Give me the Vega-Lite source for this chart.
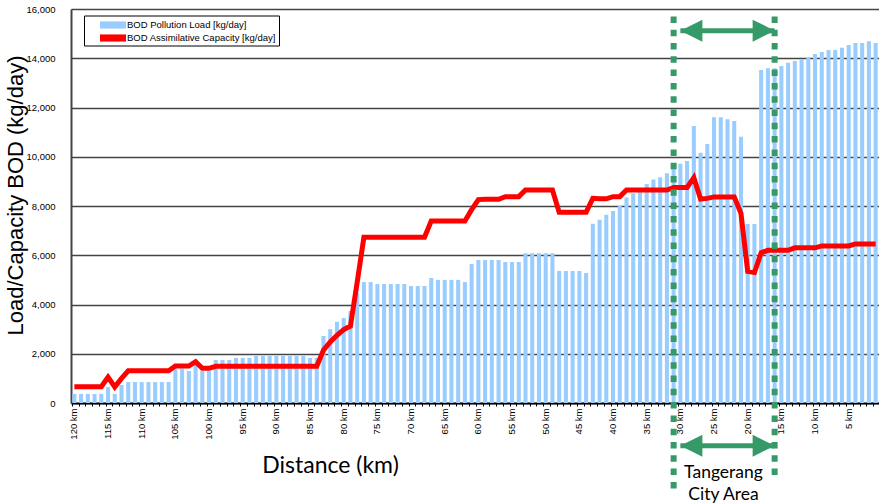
{
  "$schema": "https://vega.github.io/schema/vega-lite/v6.json",
  "autosize": "none",
  "width": 808,
  "height": 394,
  "padding": {"left": 71, "top": 9, "right": 0, "bottom": 101},
  "background": "white",
  "config": {
    "view": {"stroke": null},
    "font": "Liberation Sans"
  },
  "data": {
    "values": [
      {"km": 120, "load": 370, "capacity": 660},
      {"km": 119, "load": 370, "capacity": 660},
      {"km": 118, "load": 370, "capacity": 660},
      {"km": 117, "load": 370, "capacity": 660},
      {"km": 116, "load": 370, "capacity": 660},
      {"km": 115, "load": 650, "capacity": 1050},
      {"km": 114, "load": 370, "capacity": 650},
      {"km": 113, "load": 730, "capacity": 1000},
      {"km": 112, "load": 850, "capacity": 1310},
      {"km": 111, "load": 850, "capacity": 1310},
      {"km": 110, "load": 850, "capacity": 1310},
      {"km": 109, "load": 850, "capacity": 1310},
      {"km": 108, "load": 850, "capacity": 1310},
      {"km": 107, "load": 850, "capacity": 1310},
      {"km": 106, "load": 850, "capacity": 1310},
      {"km": 105, "load": 1400, "capacity": 1500},
      {"km": 104, "load": 1400, "capacity": 1500},
      {"km": 103, "load": 1300, "capacity": 1500},
      {"km": 102, "load": 1745, "capacity": 1680},
      {"km": 101, "load": 1300, "capacity": 1410},
      {"km": 100, "load": 1300, "capacity": 1410},
      {"km": 99, "load": 1745, "capacity": 1490},
      {"km": 98, "load": 1745, "capacity": 1490},
      {"km": 97, "load": 1745, "capacity": 1490},
      {"km": 96, "load": 1830, "capacity": 1490},
      {"km": 95, "load": 1830, "capacity": 1490},
      {"km": 94, "load": 1830, "capacity": 1490},
      {"km": 93, "load": 1910, "capacity": 1490},
      {"km": 92, "load": 1910, "capacity": 1490},
      {"km": 91, "load": 1910, "capacity": 1490},
      {"km": 90, "load": 1910, "capacity": 1490},
      {"km": 89, "load": 1910, "capacity": 1490},
      {"km": 88, "load": 1910, "capacity": 1490},
      {"km": 87, "load": 1910, "capacity": 1490},
      {"km": 86, "load": 1910, "capacity": 1490},
      {"km": 85, "load": 1830, "capacity": 1490},
      {"km": 84, "load": 1830, "capacity": 1490},
      {"km": 83, "load": 2720, "capacity": 2150},
      {"km": 82, "load": 3000, "capacity": 2480},
      {"km": 81, "load": 3300, "capacity": 2750},
      {"km": 80, "load": 3450, "capacity": 2980},
      {"km": 79, "load": 3735, "capacity": 3125},
      {"km": 78, "load": 4460, "capacity": 4900},
      {"km": 77, "load": 4910, "capacity": 6730},
      {"km": 76, "load": 4910, "capacity": 6730},
      {"km": 75, "load": 4830, "capacity": 6730},
      {"km": 74, "load": 4830, "capacity": 6730},
      {"km": 73, "load": 4830, "capacity": 6730},
      {"km": 72, "load": 4830, "capacity": 6730},
      {"km": 71, "load": 4830, "capacity": 6730},
      {"km": 70, "load": 4750, "capacity": 6730},
      {"km": 69, "load": 4750, "capacity": 6730},
      {"km": 68, "load": 4750, "capacity": 6730},
      {"km": 67, "load": 5075, "capacity": 7390},
      {"km": 66, "load": 5000, "capacity": 7390},
      {"km": 65, "load": 5000, "capacity": 7390},
      {"km": 64, "load": 5000, "capacity": 7390},
      {"km": 63, "load": 5000, "capacity": 7390},
      {"km": 62, "load": 4910, "capacity": 7390},
      {"km": 61, "load": 5645, "capacity": 7850},
      {"km": 60, "load": 5810, "capacity": 8260},
      {"km": 59, "load": 5810, "capacity": 8270},
      {"km": 58, "load": 5810, "capacity": 8270},
      {"km": 57, "load": 5810, "capacity": 8270},
      {"km": 56, "load": 5725, "capacity": 8380},
      {"km": 55, "load": 5725, "capacity": 8380},
      {"km": 54, "load": 5725, "capacity": 8380},
      {"km": 53, "load": 6085, "capacity": 8650},
      {"km": 52, "load": 6085, "capacity": 8650},
      {"km": 51, "load": 6085, "capacity": 8650},
      {"km": 50, "load": 6085, "capacity": 8650},
      {"km": 49, "load": 6085, "capacity": 8650},
      {"km": 48, "load": 5360, "capacity": 7745},
      {"km": 47, "load": 5360, "capacity": 7745},
      {"km": 46, "load": 5360, "capacity": 7745},
      {"km": 45, "load": 5360, "capacity": 7745},
      {"km": 44, "load": 5280, "capacity": 7745},
      {"km": 43, "load": 7280, "capacity": 8310},
      {"km": 42, "load": 7440, "capacity": 8290},
      {"km": 41, "load": 7640, "capacity": 8290},
      {"km": 40, "load": 7800, "capacity": 8380},
      {"km": 39, "load": 8000, "capacity": 8380},
      {"km": 38, "load": 8350, "capacity": 8650},
      {"km": 37, "load": 8515, "capacity": 8650},
      {"km": 36, "load": 8680, "capacity": 8650},
      {"km": 35, "load": 8890, "capacity": 8650},
      {"km": 34, "load": 9080, "capacity": 8650},
      {"km": 33, "load": 9165, "capacity": 8650},
      {"km": 32, "load": 9330, "capacity": 8650},
      {"km": 31, "load": 9600, "capacity": 8750},
      {"km": 30, "load": 9720, "capacity": 8750},
      {"km": 29, "load": 9830, "capacity": 8750},
      {"km": 28, "load": 11250, "capacity": 9150},
      {"km": 27, "load": 10165, "capacity": 8280},
      {"km": 26, "load": 10520, "capacity": 8310},
      {"km": 25, "load": 11600, "capacity": 8370},
      {"km": 24, "load": 11600, "capacity": 8370},
      {"km": 23, "load": 11520, "capacity": 8370},
      {"km": 22, "load": 11450, "capacity": 8370},
      {"km": 21, "load": 10815, "capacity": 7700},
      {"km": 20, "load": 7270, "capacity": 5350},
      {"km": 19, "load": 7270, "capacity": 5300},
      {"km": 18, "load": 13520, "capacity": 6100},
      {"km": 17, "load": 13590, "capacity": 6200},
      {"km": 16, "load": 13590, "capacity": 6200},
      {"km": 15, "load": 13685, "capacity": 6200},
      {"km": 14, "load": 13820, "capacity": 6200},
      {"km": 13, "load": 13890, "capacity": 6300},
      {"km": 12, "load": 13955, "capacity": 6300},
      {"km": 11, "load": 14035, "capacity": 6300},
      {"km": 10, "load": 14170, "capacity": 6300},
      {"km": 9, "load": 14255, "capacity": 6380},
      {"km": 8, "load": 14335, "capacity": 6380},
      {"km": 7, "load": 14335, "capacity": 6380},
      {"km": 6, "load": 14430, "capacity": 6380},
      {"km": 5, "load": 14540, "capacity": 6380},
      {"km": 4, "load": 14620, "capacity": 6460},
      {"km": 3, "load": 14620, "capacity": 6460},
      {"km": 2, "load": 14690, "capacity": 6460},
      {"km": 1, "load": 14620, "capacity": 6460}
    ]
  },
  "layer": [
    {
      "mark": {"type": "bar", "fill": "#99ccff"},
      "encoding": {
        "x": {
          "field": "km",
          "type": "ordinal",
          "scale": {"reverse": true, "paddingInner": 0.4, "paddingOuter": 0.2},
          "axis": {
            "title": "Distance (km)",
            "titleFont": "Lato",
            "titleFontSize": 23,
            "titleFontWeight": "normal",
            "titleColor": "black",
            "titleX": 259,
            "titleY": 62,
            "titleBaseline": "middle",
            "titleAlign": "center",
            "labelExpr": "datum.value % 5 == 0 ? datum.value + ' km' : ''",
            "labelAngle": -90,
            "labelFont": "Liberation Sans",
            "labelFontSize": 9.5,
            "labelColor": "black",
            "labelPadding": 2,
            "bandPosition": 0,
            "tickSize": 3,
            "tickColor": "black",
            "tickWidth": 1,
            "domainColor": "black",
            "domainWidth": 2,
            "grid": false
          }
        },
        "y": {
          "field": "load",
          "type": "quantitative",
          "scale": {"domain": [0, 16000], "nice": false},
          "axis": {
            "title": "Load/Capacity BOD (kg/day)",
            "titleFont": "Liberation Sans",
            "titleFontSize": 22,
            "titleFontWeight": "normal",
            "titleColor": "black",
            "titleX": -56,
            "titleY": 186,
            "titleAlign": "center",
            "titleBaseline": "middle",
            "values": [0, 2000, 4000, 6000, 8000, 10000, 12000, 14000, 16000],
            "format": ",d",
            "labelFont": "Liberation Sans",
            "labelFontSize": 9.5,
            "labelColor": "black",
            "labelPadding": 16,
            "ticks": false,
            "domainColor": "#444444",
            "domainWidth": 2,
            "grid": true,
            "gridColor": "#444444",
            "gridWidth": 1.5
          }
        },
        "color": {
          "datum": "BOD Pollution Load [kg/day]",
          "scale": {
            "domain": ["BOD Pollution Load [kg/day]", "BOD Assimilative Capacity [kg/day]"],
            "range": ["#99ccff", "#ff0000"]
          },
          "legend": {
            "title": null,
            "orient": "none",
            "legendX": 13,
            "legendY": 6.5,
            "strokeColor": "black",
            "fillColor": "white",
            "padding": 3,
            "symbolOffset": 19.5,
            "labelOffset": 7.5,
            "rowPadding": 2,
            "symbolType": "M-2,-0.55H2V0.55H-2Z",
            "symbolSize": 169,
            "symbolStrokeWidth": 0,
            "labelFont": "Liberation Sans",
            "labelFontSize": 9.5,
            "labelColor": "black"
          }
        }
      }
    },
    {
      "mark": {"type": "line", "stroke": "#ff0000", "strokeWidth": 5, "strokeJoin": "miter"},
      "encoding": {
        "x": {"field": "km", "type": "ordinal"},
        "y": {"field": "capacity", "type": "quantitative"},
        "color": {"datum": "BOD Assimilative Capacity [kg/day]"}
      }
    },
    {
      "data": {"values": [{}]},
      "mark": {"type": "rule", "stroke": "#369a68", "strokeWidth": 6, "strokeDash": [6.5, 6.8]},
      "encoding": {
        "x": {"datum": 31, "type": "ordinal"},
        "y": {"datum": 15700, "type": "quantitative"},
        "y2": {"datum": -3600}
      }
    },
    {
      "data": {"values": [{}]},
      "mark": {"type": "rule", "stroke": "#369a68", "strokeWidth": 6, "strokeDash": [6.5, 6.8]},
      "encoding": {
        "x": {"datum": 16, "type": "ordinal"},
        "y": {"datum": 15700, "type": "quantitative"},
        "y2": {"datum": -3200}
      }
    },
    {
      "data": {"values": [{}]},
      "mark": {"type": "rule", "stroke": "#369a68", "strokeWidth": 5},
      "encoding": {
        "x": {"datum": 30, "type": "ordinal"},
        "x2": {"datum": 16},
        "y": {"datum": 15120, "type": "quantitative"}
      }
    },
    {
      "data": {"values": [{}]},
      "mark": {"type": "rule", "stroke": "#369a68", "strokeWidth": 5},
      "encoding": {
        "x": {"datum": 30, "type": "ordinal"},
        "x2": {"datum": 16},
        "y": {"datum": -1734, "type": "quantitative"}
      }
    },
    {
      "data": {"values": [{}]},
      "mark": {"type": "point", "shape": "M0,0L2,-1L2,1Z", "size": 484, "filled": true, "fill": "#369a68", "opacity": 1, "strokeWidth": 0},
      "encoding": {
        "x": {"datum": 30, "type": "ordinal"},
        "y": {"datum": 15120, "type": "quantitative"}
      }
    },
    {
      "data": {"values": [{}]},
      "mark": {"type": "point", "shape": "M0,0L-2,-1L-2,1Z", "size": 484, "filled": true, "fill": "#369a68", "opacity": 1, "strokeWidth": 0},
      "encoding": {
        "x": {"datum": 16, "type": "ordinal"},
        "y": {"datum": 15120, "type": "quantitative"}
      }
    },
    {
      "data": {"values": [{}]},
      "mark": {"type": "point", "shape": "M0,0L2,-1L2,1Z", "size": 484, "filled": true, "fill": "#369a68", "opacity": 1, "strokeWidth": 0},
      "encoding": {
        "x": {"datum": 30, "type": "ordinal"},
        "y": {"datum": -1734, "type": "quantitative"}
      }
    },
    {
      "data": {"values": [{}]},
      "mark": {"type": "point", "shape": "M0,0L-2,-1L-2,1Z", "size": 484, "filled": true, "fill": "#369a68", "opacity": 1, "strokeWidth": 0},
      "encoding": {
        "x": {"datum": 16, "type": "ordinal"},
        "y": {"datum": -1734, "type": "quantitative"}
      }
    },
    {
      "data": {"values": [{}]},
      "mark": {"type": "text", "text": "Tangerang", "font": "Lato", "fontSize": 17.5, "align": "center", "baseline": "middle", "color": "black", "dx": -4},
      "encoding": {
        "x": {"datum": 23, "type": "ordinal"},
        "y": {"datum": -2843, "type": "quantitative"}
      }
    },
    {
      "data": {"values": [{}]},
      "mark": {"type": "text", "text": "City Area", "font": "Lato", "fontSize": 17.5, "align": "center", "baseline": "middle", "color": "black", "dx": -4},
      "encoding": {
        "x": {"datum": 23, "type": "ordinal"},
        "y": {"datum": -3736, "type": "quantitative"}
      }
    }
  ]
}
